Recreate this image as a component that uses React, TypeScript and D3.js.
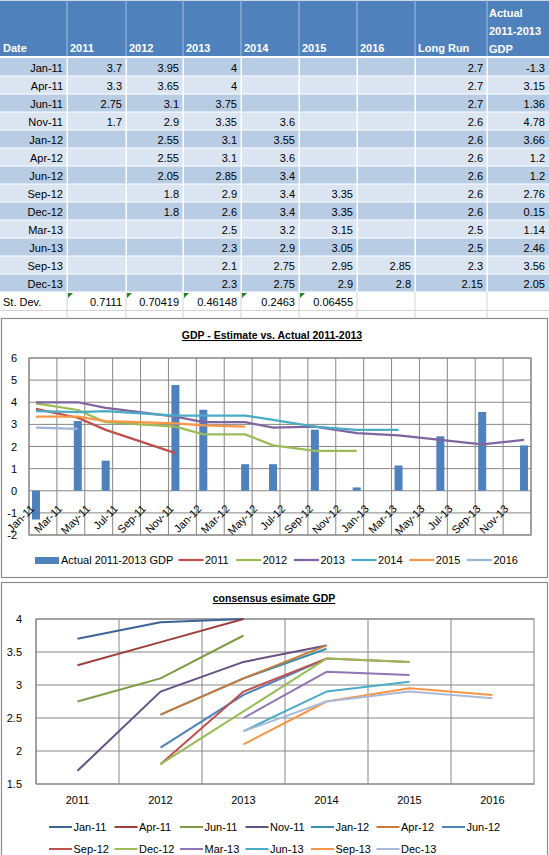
import React from "react";
import * as d3 from "d3";

// ---------- DATA ----------
const dates = ["Jan-11","Apr-11","Jun-11","Nov-11","Jan-12","Apr-12","Jun-12","Sep-12","Dec-12","Mar-13","Jun-13","Sep-13","Dec-13"];
const yearCols = ["2011","2012","2013","2014","2015","2016"];
const est2011 = [3.7,3.3,2.75,1.7,null,null,null,null,null,null,null,null,null];
const est2012 = [3.95,3.65,3.1,2.9,2.55,2.55,2.05,1.8,1.8,null,null,null,null];
const est2013 = [4,4,3.75,3.35,3.1,3.1,2.85,2.9,2.6,2.5,2.3,2.1,2.3];
const est2014 = [null,null,null,3.6,3.55,3.6,3.4,3.4,3.4,3.2,2.9,2.75,2.75];
const est2015 = [null,null,null,null,null,null,null,3.35,3.35,3.15,3.05,2.95,2.9];
const est2016 = [null,null,null,null,null,null,null,null,null,null,null,2.85,2.8];
const longRun = [2.7,2.7,2.7,2.6,2.6,2.6,2.6,2.6,2.6,2.5,2.5,2.3,2.15];
const actualGDP = [-1.3,3.15,1.36,4.78,3.66,1.2,1.2,2.76,0.15,1.14,2.46,3.56,2.05];
const stDev = ["0.7111","0.70419","0.46148","0.2463","0.06455"];

const chart1Ticks = ["Jan-11","Mar-11","May-11","Jul-11","Sep-11","Nov-11","Jan-12","Mar-12","May-12","Jul-12","Sep-12","Nov-12","Jan-13","Mar-13","May-13","Jul-13","Sep-13","Nov-13"];
const chart1YTicks = [-2,-1,0,1,2,3,4,5,6];
const chart2YTicks = [1.5,2,2.5,3,3.5,4];

const estimates = [est2011, est2012, est2013, est2014, est2015, est2016];
const chart1Colors = ["#C0504D","#9BBB59","#8064A2","#4BACC6","#F79646","#9DB4DA"];
const barColor = "#4F81BD";
const chart2Colors = ["#3C6496","#9E3F3C","#7D9B45","#654F85","#3A90A8","#C77A39","#4F81BD","#C0504D","#9BBB59","#8F75B3","#4BACC6","#F79646","#A9BAD8"];

// ---------- HELPERS ----------
const FONT = "'Liberation Sans', Arial, sans-serif";
const parseD = d3.timeParse("%b-%y");
const monthIdx = (s: string) => { const d = parseD(s)!; return (d.getFullYear() - 2011) * 12 + d.getMonth(); };

const colX = [0, 67, 126, 183, 241, 299, 357, 415, 487, 549];
const HEADER_H = 56;
const ROW_TOP = 58;
const ROW_H = 18;

function Table() {
  const headers = ["Date", ...yearCols, "Long Run"];
  const rows = dates.map((d, i) => [d, ...estimates.map(e => e[i]), longRun[i], actualGDP[i]]);
  const stTop = ROW_TOP + dates.length * ROW_H;
  return (
    <g fontFamily={FONT} fontSize={11}>
      {/* grid row above header */}
      <rect x={0} y={0} width={549} height={1} fill="#D0D7E5" />
      <rect x={0} y={1} width={549} height={HEADER_H - 1} fill="#4F81BD" />
      {colX.slice(1, -1).map((x, i) => (
        <rect key={i} x={x - 0.5} y={0} width={1} height={HEADER_H} fill="#A9BFDD" />
      ))}
      {headers.map((h, i) => (
        <text key={h} x={colX[i] + 3} y={52} fill="#fff" fontWeight="bold">{h}</text>
      ))}
      {["Actual", "2011-2013", "GDP"].map((t, i) => (
        <text key={t} x={colX[8] + 2} y={17 + i * 18} fill="#fff" fontWeight="bold">{t}</text>
      ))}
      {rows.map((r, i) => {
        const y = ROW_TOP + i * ROW_H;
        return (
          <g key={i}>
            <rect x={0} y={y} width={549} height={ROW_H} fill={i % 2 === 0 ? "#B8CCE4" : "#DBE5F1"} />
            {r.map((v, c) => v === null ? null : (
              <text key={c} x={colX[c + 1] - 4} y={y + 14} textAnchor="end" fill="#000">{String(v)}</text>
            ))}
          </g>
        );
      })}
      {/* white separators */}
      <rect x={0} y={HEADER_H} width={549} height={2} fill="#fff" />
      {dates.map((_, i) => (
        <rect key={i} x={0} y={ROW_TOP + (i + 1) * ROW_H - 0.5} width={549} height={1} fill="#fff" />
      ))}
      {colX.slice(1, -1).map((x, i) => (
        <rect key={i} x={x - 0.5} y={ROW_TOP} width={1.5} height={dates.length * ROW_H} fill="#fff" />
      ))}
      {/* St. Dev. row */}
      <rect x={0} y={stTop} width={549} height={ROW_H + 10} fill="#fff" />
      {colX.slice(1, -1).map((x, i) => (
        <rect key={i} x={x - 0.5} y={stTop} width={1} height={ROW_H + 10} fill="#D4D4D4" />
      ))}
      <rect x={0} y={stTop + ROW_H} width={549} height={1} fill="#D4D4D4" />
      <text x={3} y={stTop + 14} fill="#000">St. Dev.</text>
      {stDev.map((v, i) => (
        <g key={i}>
          <path d={`M${colX[i + 1] + 1},${stTop + 1}h5l-5,5z`} fill="#208020" />
          <text x={colX[i + 2] - 4} y={stTop + 14} textAnchor="end" fill="#000">{v}</text>
        </g>
      ))}
    </g>
  );
}

function Chart1() {
  const top = 318, bottom = 577;
  const x = d3.scaleLinear().domain([0, 36]).range([29, 531]);
  const y = d3.scaleLinear().domain([-2, 6]).range([535, 358]);
  const pos = (s: string) => x(monthIdx(s) + 0.5);
  const line = d3.line<[number, number]>().x(d => d[0]).y(d => d[1]);
  // Each estimate series: its non-empty cells plotted against the leading dates (as in the source chart)
  const series = estimates.map(e => e.filter(v => v !== null).map((v, i) => [pos(dates[i]), y(v as number)] as [number, number]));
  const bw = 8;
  const legendYears = yearCols.map((yr, j) => ({ yr, x: 178.5 + j * 57.7, color: chart1Colors[j] }));
  return (
    <g fontFamily={FONT}>
      <rect x={1.5} y={top + 0.5} width={546} height={bottom - top} fill="#fff" stroke="#8C8C8C" strokeWidth={1.2} />
      <text x={272} y={339} textAnchor="middle" fontWeight="bold" fontSize={10.5} textDecoration="underline">GDP - Estimate vs. Actual 2011-2013</text>
      {/* gridlines */}
      {chart1YTicks.map(t => (
        <line key={t} x1={29} x2={531} y1={y(t)} y2={y(t)} stroke="#878787" strokeWidth={1} />
      ))}
      {d3.range(0, 37, 2).map(m => (
        <line key={m} x1={x(m)} x2={x(m)} y1={358} y2={535} stroke="#878787" strokeWidth={1} />
      ))}
      <rect x={29} y={358} width={502} height={177} fill="none" stroke="#808080" />
      {chart1YTicks.map(t => (
        <text key={t} x={17} y={y(t) + 4} textAnchor="end" fontSize={11}>{t}</text>
      ))}
      {/* bars */}
      {actualGDP.map((v, i) => (
        <rect key={i} x={pos(dates[i]) - bw / 2} y={Math.min(y(v), y(0))} width={bw} height={Math.abs(y(v) - y(0))} fill={barColor} />
      ))}
      {/* lines */}
      {series.map((s, j) => (
        <path key={j} d={line(s) || ""} fill="none" stroke={chart1Colors[j]} strokeWidth={2.25} strokeLinejoin="round" />
      ))}
      {/* x labels */}
      {chart1Ticks.map(t => {
        const ax = x(monthIdx(t)) + 6, ay = 509.5;
        return <text key={t} x={ax} y={ay} textAnchor="end" fontSize={11} transform={`rotate(-45,${ax},${ay})`}>{t}</text>;
      })}
      {/* legend */}
      <rect x={35} y={557} width={24} height={7} fill={barColor} />
      <text x={61} y={564} fontSize={11}>Actual 2011-2013 GDP</text>
      {legendYears.map(l => (
        <g key={l.yr}>
          <line x1={l.x} x2={l.x + 25} y1={560} y2={560} stroke={l.color} strokeWidth={2.25} />
          <text x={l.x + 26.5} y={564} fontSize={11}>{l.yr}</text>
        </g>
      ))}
    </g>
  );
}

function Chart2() {
  const top = 582;
  const x = d3.scaleBand().domain(yearCols).range([36, 534]);
  const y = d3.scaleLinear().domain([1.5, 4]).range([784, 619]);
  const line = d3.line<[number, number]>().x(d => d[0]).y(d => d[1]);
  const series = dates.map((_, i) =>
    estimates.map((e, j) => [yearCols[j], e[i]] as [string, number | null])
      .filter(d => d[1] !== null)
      .map(d => [x(d[0])! + x.bandwidth() / 2, y(d[1] as number)] as [number, number])
  );
  return (
    <g fontFamily={FONT}>
      <rect x={1.5} y={top + 0.5} width={546} height={290} fill="#fff" stroke="#8C8C8C" strokeWidth={1.2} />
      <text x={274} y={602} textAnchor="middle" fontWeight="bold" fontSize={10.5} textDecoration="underline">consensus esimate GDP</text>
      {chart2YTicks.map(t => (
        <line key={t} x1={36} x2={534} y1={y(t)} y2={y(t)} stroke="#878787" />
      ))}
      {yearCols.map(c => (
        <line key={c} x1={x(c)!} x2={x(c)!} y1={619} y2={784} stroke="#878787" />
      ))}
      <rect x={36} y={619} width={498} height={165} fill="none" stroke="#808080" />
      {chart2YTicks.map(t => (
        <text key={t} x={22} y={y(t) + 4} textAnchor="end" fontSize={11}>{t}</text>
      ))}
      {yearCols.map(c => (
        <text key={c} x={x(c)! + x.bandwidth() / 2} y={804} textAnchor="middle" fontSize={11}>{c}</text>
      ))}
      {series.map((s, i) => (
        <path key={i} d={line(s) || ""} fill="none" stroke={chart2Colors[i]} strokeWidth={2} strokeLinejoin="round" />
      ))}
      {dates.map((d, i) => {
        const row = i < 7 ? 0 : 1;
        const col = i < 7 ? i : i - 7;
        const lx = 49 + col * 65.5;
        const ly = row === 0 ? 827 : 849;
        return (
          <g key={d}>
            <line x1={lx} x2={lx + 23} y1={ly} y2={ly} stroke={chart2Colors[i]} strokeWidth={2} />
            <text x={lx + 24.5} y={ly + 4} fontSize={11}>{d}</text>
          </g>
        );
      })}
    </g>
  );
}

export default function App() {
  return (
    <svg width={549} height={855} style={{ position: "absolute", left: 0, top: 0 }}>
      <rect width={549} height={855} fill="#fff" />
      <Table />
      <Chart1 />
      <Chart2 />
    </svg>
  );
}
